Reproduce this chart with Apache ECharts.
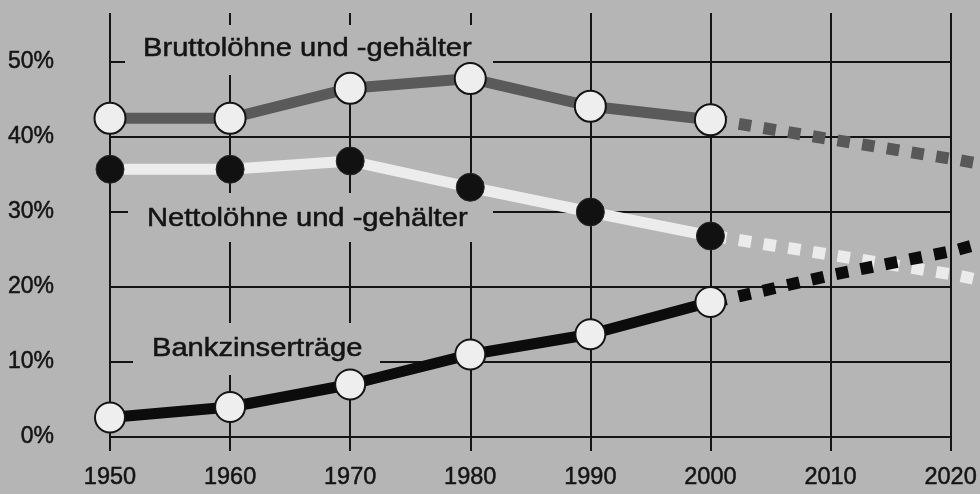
<!DOCTYPE html>
<html><head><meta charset="utf-8">
<script src="https://cdn.jsdelivr.net/npm/echarts@6/dist/echarts.min.js"></script>
<style>html,body{margin:0;padding:0;background:#b5b5b5}#c{width:980px;height:494px}</style>
</head><body><div id="c"></div>
<script>
const years = [1950, 1960, 1970, 1980, 1990, 2000];
const brutto = [42.5, 42.5, 46.5, 47.8, 44.1, 42.3];
const netto = [35.7, 35.7, 36.8, 33.3, 30.0, 26.8];
const bank = [2.6, 4.0, 7.0, 11.0, 13.7, 18.0];
const projYears = [2000, 2010, 2020, 2022];
const bruttoProj = [42.3, 39.6, 37.0, 36.4];
const nettoProj = [26.8, 24.2, 21.6, 20.9];
const bankProj = [18.0, 21.7, 24.9, 25.8];
const seriesNames = ['Bruttolöhne und -gehälter', 'Nettolöhne und -gehälter', 'Bankzinserträge'];
const xMin = 1950, xMax = 2020, xStep = 10, xProjMax = 2022;
const yMin = 0, yMax = 50, yStep = 10;

const BG = '#b5b5b5', INK = '#141414';
const pair = (xs, ys) => xs.map((x, i) => [x, ys[i]]);

const chart = echarts.init(document.getElementById('c'));
const whiteDot = { color: '#eeeeee', borderColor: INK, borderWidth: 2 };
const blackDot = { color: '#111111', borderColor: '#2a2a2a', borderWidth: 1 };
const proj = (name, data, color) => ({
  name, type: 'line', data, xAxisIndex: 2, yAxisIndex: 1, symbol: 'none', silent: true, z: 2,
  lineStyle: { color, width: 12, type: [12.5, 12.5], cap: 'butt' }
});
const main = (name, data, color, dot, size) => ({
  name, type: 'line', data, symbol: 'circle', symbolSize: size, silent: true, z: 3,
  lineStyle: { color, width: 11 }, itemStyle: dot
});
// scale: 1950 -> 110px, 2020 -> 962px; the overlay grid keeps the same scale up to 2022
const pxPerYear = (962 - 110) / (xMax - xMin);
const projRight = 980 - (110 + (xProjMax - xMin) * pxPerYear);
const lbl = { color: INK, fontFamily: 'Liberation Sans', textBorderColor: INK, textBorderWidth: 0.5 };

chart.setOption({
  backgroundColor: BG,
  animation: false,
  grid: [
    { left: 110, right: 18, top: 62, bottom: 57 },
    { left: 110, right: projRight, top: 62, bottom: 57 }
  ],
  xAxis: [{
    type: 'value', min: xMin, max: xMax, interval: xStep, position: 'bottom',
    axisLine: { show: false },
    axisTick: { show: true, length: 14, lineStyle: { color: INK, width: 2 } },
    axisLabel: Object.assign({ margin: 29, fontSize: 23.5, formatter: v => String(v) }, lbl),
    splitLine: { show: true, lineStyle: { color: INK, width: 2 } }
  }, {
    type: 'value', min: xMin, max: xMax, interval: xStep, position: 'top',
    axisLine: { show: false },
    axisTick: { show: true, length: 49, lineStyle: { color: INK, width: 2 } },
    axisLabel: { show: false }, splitLine: { show: false }
  }, {
    type: 'value', gridIndex: 1, min: xMin, max: xProjMax, show: false,
    splitLine: { show: false }
  }],
  yAxis: [{
    type: 'value', min: yMin, max: yMax, interval: yStep,
    axisLine: { show: false }, axisTick: { show: false },
    axisLabel: Object.assign({ margin: 56, fontSize: 23, formatter: '{value}%', padding: [6, 0, 0, 0] }, lbl),
    splitLine: { show: true, lineStyle: { color: INK, width: 2 } }
  }, {
    type: 'value', gridIndex: 1, min: yMin, max: yMax, show: false, splitLine: { show: false }
  }],
  series: [
    proj(seriesNames[0] + ' Prognose', pair(projYears, bruttoProj), '#585858'),
    proj(seriesNames[1] + ' Prognose', pair(projYears, nettoProj), '#ebebeb'),
    proj(seriesNames[2] + ' Prognose', pair(projYears, bankProj), '#0c0c0c'),
    main(seriesNames[0], pair(years, brutto), '#5a5a5a', whiteDot, 31),
    main(seriesNames[1], pair(years, netto), '#ececec', blackDot, 28),
    main(seriesNames[2], pair(years, bank), '#0c0c0c', whiteDot, 30)
  ],
  graphic: [
    { type: 'rect', z: 1, silent: true, shape: { x: 125, y: 25, width: 368, height: 50 }, style: { fill: BG } },
    { type: 'rect', z: 1, silent: true, shape: { x: 128, y: 193, width: 365, height: 49 }, style: { fill: BG } },
    { type: 'rect', z: 1, silent: true, shape: { x: 133, y: 323, width: 247, height: 52 }, style: { fill: BG } },
    { type: 'text', z: 4, silent: true, x: 143, y: 49, scaleX: 1.165,
      style: { text: seriesNames[0], font: '25px "Liberation Sans"', fill: INK, stroke: INK, lineWidth: 0.5, textAlign: 'left', textVerticalAlign: 'middle' } },
    { type: 'text', z: 4, silent: true, x: 147, y: 219, scaleX: 1.165,
      style: { text: seriesNames[1], font: '25px "Liberation Sans"', fill: INK, stroke: INK, lineWidth: 0.5, textAlign: 'left', textVerticalAlign: 'middle' } },
    { type: 'text', z: 4, silent: true, x: 152, y: 349, scaleX: 1.165,
      style: { text: seriesNames[2], font: '25px "Liberation Sans"', fill: INK, stroke: INK, lineWidth: 0.5, textAlign: 'left', textVerticalAlign: 'middle' } }
  ]
});
</script></body></html>
